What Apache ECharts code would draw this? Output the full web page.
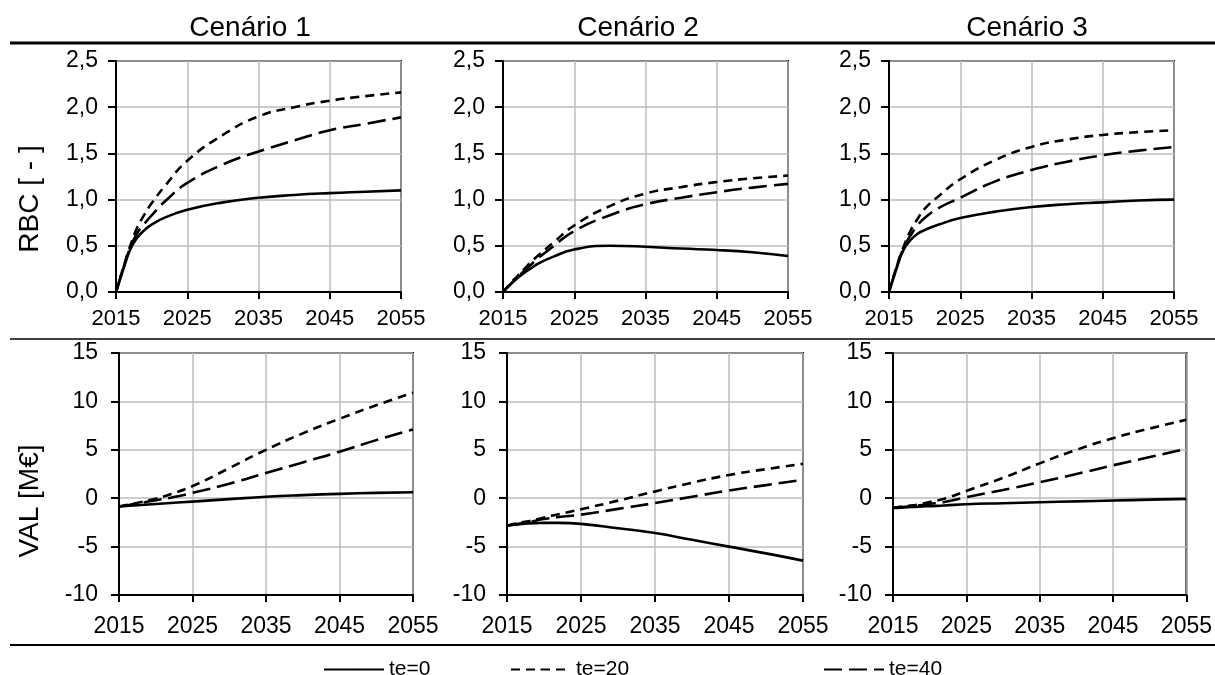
<!DOCTYPE html>
<html>
<head>
<meta charset="utf-8">
<script src="https://cdn.jsdelivr.net/npm/echarts@6/dist/echarts.min.js"></script>
<style>
html,body{margin:0;padding:0;background:#fff;}
#chart{width:1215px;height:675px;}
</style>
</head>
<body>
<div id="chart"></div>
<script>
// ---- data ----
const scenarioTitles = ['Cenário 1', 'Cenário 2', 'Cenário 3'];
const axisNames = ['RBC [ - ]', 'VAL [M€]'];
const seriesNames = ['te=0', 'te=20', 'te=40'];
const years = [2015, 2016, 2017, 2018, 2019, 2020, 2022, 2025, 2030, 2035, 2040, 2045, 2050, 2055];
const xTicks = [2015, 2025, 2035, 2045, 2055];

// RBC [-]
const rbc1_te0  = [0, 0.24, 0.46, 0.59, 0.67, 0.73, 0.81, 0.89, 0.97, 1.02, 1.05, 1.07, 1.085, 1.10];
const rbc1_te20 = [0, 0.26, 0.50, 0.70, 0.84, 0.96, 1.16, 1.42, 1.70, 1.90, 2.00, 2.07, 2.12, 2.16];
const rbc1_te40 = [0, 0.25, 0.48, 0.64, 0.74, 0.83, 0.99, 1.18, 1.38, 1.52, 1.64, 1.75, 1.82, 1.89];

const rbc2_te0  = [0, 0.08, 0.15, 0.21, 0.26, 0.31, 0.38, 0.46, 0.50, 0.49, 0.47, 0.455, 0.43, 0.39];
const rbc2_te20 = [0, 0.09, 0.17, 0.25, 0.33, 0.40, 0.53, 0.72, 0.93, 1.065, 1.135, 1.19, 1.23, 1.26];
const rbc2_te40 = [0, 0.08, 0.16, 0.23, 0.30, 0.37, 0.49, 0.66, 0.83, 0.95, 1.02, 1.08, 1.13, 1.17];

const rbc3_te0  = [0, 0.24, 0.45, 0.56, 0.63, 0.67, 0.73, 0.80, 0.87, 0.92, 0.95, 0.97, 0.99, 1.00];
const rbc3_te20 = [0, 0.26, 0.48, 0.66, 0.79, 0.90, 1.04, 1.22, 1.43, 1.57, 1.65, 1.70, 1.73, 1.75];
const rbc3_te40 = [0, 0.25, 0.47, 0.61, 0.72, 0.80, 0.91, 1.02, 1.20, 1.32, 1.41, 1.48, 1.53, 1.57];

// VAL [M€]
const val1_te0  = [-0.85, -0.80, -0.75, -0.70, -0.65, -0.60, -0.50, -0.35, -0.10, 0.15, 0.32, 0.45, 0.55, 0.62];
const val1_te20 = [-0.85, -0.70, -0.55, -0.40, -0.22, -0.05, 0.40, 1.25, 3.10, 5.00, 6.70, 8.20, 9.60, 10.90];
const val1_te40 = [-0.85, -0.75, -0.60, -0.50, -0.35, -0.20, 0.05, 0.55, 1.50, 2.60, 3.70, 4.80, 6.00, 7.10];

const val2_te0  = [-2.85, -2.75, -2.65, -2.60, -2.57, -2.55, -2.55, -2.65, -3.10, -3.60, -4.30, -5.00, -5.70, -6.45];
const val2_te20 = [-2.85, -2.65, -2.50, -2.35, -2.18, -2.00, -1.65, -1.15, -0.25, 0.70, 1.60, 2.40, 3.00, 3.55];
const val2_te40 = [-2.85, -2.70, -2.60, -2.45, -2.30, -2.15, -1.95, -1.70, -1.10, -0.50, 0.15, 0.80, 1.35, 1.90];

const val3_te0  = [-1.00, -0.97, -0.93, -0.90, -0.86, -0.82, -0.75, -0.62, -0.52, -0.42, -0.33, -0.24, -0.15, -0.07];
const val3_te20 = [-1.00, -0.90, -0.80, -0.70, -0.55, -0.40, -0.05, 0.75, 2.10, 3.60, 5.00, 6.20, 7.20, 8.10];
const val3_te40 = [-1.00, -0.92, -0.85, -0.78, -0.70, -0.60, -0.40, 0.10, 0.85, 1.65, 2.50, 3.40, 4.25, 5.10];

const rbcTicks = [0, 0.5, 1.0, 1.5, 2.0, 2.5];
const valTicks = [-10, -5, 0, 5, 10, 15];

const panels = [
  [rbc1_te0, rbc1_te20, rbc1_te40],
  [rbc2_te0, rbc2_te20, rbc2_te40],
  [rbc3_te0, rbc3_te20, rbc3_te40],
  [val1_te0, val1_te20, val1_te40],
  [val2_te0, val2_te20, val2_te40],
  [val3_te0, val3_te20, val3_te40]
];

// ---- layout / style ----
const FONT = 'Liberation Sans, Arial, sans-serif';
const gridBoxes = [
  {left: 116, top: 61, width: 285, height: 231},
  {left: 503, top: 61, width: 285, height: 231},
  {left: 889, top: 61, width: 285, height: 231},
  {left: 119, top: 353, width: 294, height: 242},
  {left: 507, top: 353, width: 296, height: 242},
  {left: 893, top: 353, width: 294, height: 242}
];
const dashTypes = ['solid', [9, 6], [18, 7]];

const x0 = xTicks[0];
const xSpan = xTicks[xTicks.length - 1] - x0;
const xStep = xTicks[1] - xTicks[0];

const grids = gridBoxes.map(b => Object.assign({
  show: true, borderColor: '#000', borderWidth: 2, backgroundColor: 'transparent',
  containLabel: false
}, b));

const xAxes = gridBoxes.map((b, i) => {
  const top = i < 3;
  return {
    type: 'value', gridIndex: i, min: 0, max: xSpan, interval: xStep,
    axisLine: {show: true, onZero: false, lineStyle: {color: '#000', width: 2}},
    axisTick: {show: true, inside: false, length: 7, lineStyle: {color: '#000', width: 2}},
    axisLabel: {color: '#000', fontSize: top ? 22 : 23, fontFamily: FONT, margin: top ? 16 : 20,
      formatter: v => String(v + x0)},
    splitLine: {show: true, lineStyle: {color: '#bdbdbd', width: 1.5}}
  };
});

const yAxes = gridBoxes.map((b, i) => {
  const isRbc = i < 3;
  const ticks = isRbc ? rbcTicks : valTicks;
  return {
    type: 'value', gridIndex: i,
    min: ticks[0], max: ticks[ticks.length - 1], interval: ticks[1] - ticks[0],
    axisLine: {show: true, onZero: false, lineStyle: {color: '#000', width: 2}},
    axisTick: {show: true, inside: false, length: 8, lineStyle: {color: '#000', width: 2}},
    axisLabel: {color: '#000', fontSize: 23, fontFamily: FONT, margin: isRbc ? 18 : 21,
      formatter: v => isRbc ? v.toFixed(1).replace('.', ',') : String(v)},
    splitLine: {show: true, lineStyle: {color: '#bdbdbd', width: 1.5}}
  };
});

const series = [];
panels.forEach((arrs, gi) => {
  arrs.forEach((vals, si) => {
    series.push({
      type: 'line', name: seriesNames[si], xAxisIndex: gi, yAxisIndex: gi,
      data: years.map((y, k) => [y - x0, vals[k]]),
      smooth: 0.5, symbol: 'none', showSymbol: false,
      lineStyle: {color: '#000', width: 2.6, type: dashTypes[si]},
      itemStyle: {color: '#000'},
      emphasis: {disabled: true}, silent: true, animation: false
    });
  });
});

const legendLefts = [318, 505, 818];
const legends = seriesNames.map((n, i) => ({
  data: [n], left: legendLefts[i], top: 654, itemWidth: 60, itemHeight: 2, itemGap: 10,
  textStyle: {color: '#000', fontSize: 21, fontFamily: FONT},
  selectedMode: false
}));

const titleX = [250, 638, 1027];
const graphics = [];
scenarioTitles.forEach((t, i) => {
  graphics.push({type: 'text', x: titleX[i], y: 28, style: {
    text: t, fill: '#000', font: '28px ' + FONT, textAlign: 'center', textVerticalAlign: 'middle'}});
});
const nameY = [199, 501];
axisNames.forEach((t, i) => {
  graphics.push({type: 'text', x: 30, y: nameY[i], rotation: Math.PI / 2, style: {
    text: t, fill: '#000', font: '28px ' + FONT, textAlign: 'center', textVerticalAlign: 'middle'}});
});
graphics.push({type: 'line', shape: {x1: 10, y1: 43, x2: 1215, y2: 43}, style: {stroke: '#000', lineWidth: 3}});
graphics.push({type: 'line', shape: {x1: 10, y1: 339, x2: 1215, y2: 339}, style: {stroke: '#000', lineWidth: 1.5}});
graphics.push({type: 'line', shape: {x1: 10, y1: 645, x2: 1215, y2: 645}, style: {stroke: '#000', lineWidth: 2}});

const chart = echarts.init(document.getElementById('chart'), null, {renderer: 'canvas'});
chart.setOption({
  animation: false,
  backgroundColor: '#fff',
  grid: grids, xAxis: xAxes, yAxis: yAxes, series: series,
  legend: legends, graphic: graphics
});
</script>
</body>
</html>
